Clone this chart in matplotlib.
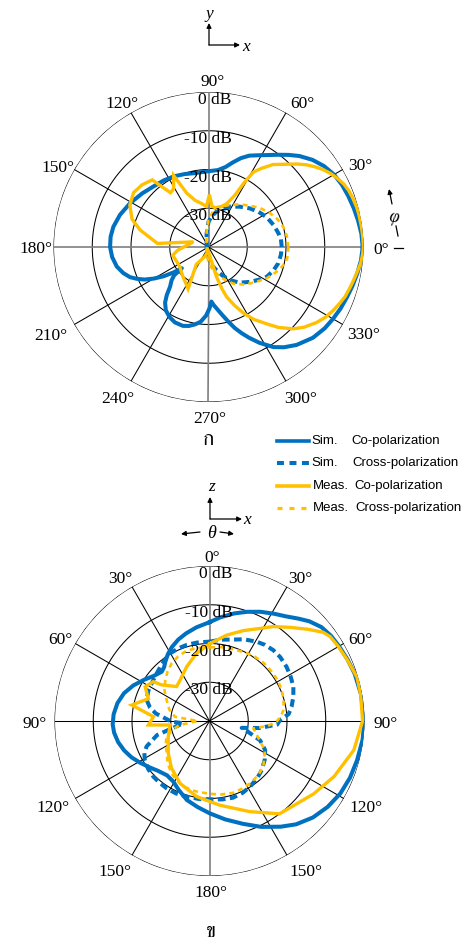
import numpy as np
import matplotlib
matplotlib.use("Agg")
import matplotlib.pyplot as plt
from matplotlib.lines import Line2D
from matplotlib.patches import FancyArrowPatch
from matplotlib import font_manager as fm
from matplotlib.ft2font import FT2Font

plt.rcParams['font.family'] = ['Liberation Serif', 'DejaVu Sans']
plt.rcParams['lines.scale_dashes'] = False

# ---------------- data: (a) xy-plane, angle phi (deg, ccw from +x) ----------------
xy_sim_co_phi = [0, 5, 10, 15, 20, 25, 30, 35, 40, 45, 49, 53, 57, 62, 66, 70, 74, 78, 83, 89, 95,
                 101, 108, 116, 124, 132, 141, 151, 160, 168, 174, 180, 186, 192, 197, 201, 204, 207,
                 210, 213, 216, 218.5, 219.5, 222, 226, 229, 232, 236, 241, 246, 252, 256, 260, 264,
                 268, 271, 273, 275, 278, 282, 285, 288, 291, 294, 298, 303, 307, 312, 319, 325, 330,
                 335, 340, 345, 350, 355, 360]
xy_sim_co_db = [-0.2, -0.4, -0.8, -1.2, -1.6, -2.0, -2.6, -3.6, -5.0, -6.8, -8.5, -10.2, -11.7, -13.2,
                -14.2, -15.6, -17.3, -18.9, -20.0, -20.4, -20.6, -20.6, -20.2, -19.7, -19.3, -18.9,
                -18.0, -16.8, -15.7, -14.9, -14.6, -14.6, -15.0, -15.8, -17.0, -18.3, -19.8, -21.5,
                -23.7, -26.1, -28.8, -31.2, -28.5, -27.2, -25.7, -23.6, -21.8, -20.3, -19.3, -18.7,
                -18.6, -19.0, -19.7, -20.6, -22.3, -24.2, -25.9, -25.0, -23.8, -21.8, -20.0, -18.0,
                -16.2, -14.4, -12.0, -9.2, -7.6, -6.0, -4.3, -3.4, -2.9, -2.4, -2.0, -1.5, -1.0,
                -0.5, -0.2]

xy_sim_cross_phi = [0, 6, 11, 18, 27, 35, 43, 52, 62, 70, 77, 84, 90, 98, 110, 130, 160, 200, 230,
                    255, 275, 283, 289, 296, 303, 311, 320, 327, 333, 340, 347, 354, 360]
xy_sim_cross_db = [-21.1, -21.2, -21.6, -22.2, -23.1, -24.2, -25.4, -26.8, -28.2, -29.7, -30.6, -32.0,
                   -33.5, -36.5, -38.5, -39.3, -39.5, -39.5, -39.3, -38.5, -36.0, -34.8, -33.7, -31.8,
                   -29.8, -27.8, -26.0, -24.5, -23.1, -22.2, -21.5, -21.2, -21.1]

xy_meas_co_phi = [0, 4, 8, 12, 15, 19, 22, 25, 28, 31, 34, 37, 40, 43, 47, 52, 56, 59, 61, 63, 67, 72,
                  80, 85, 89, 93, 100, 106, 112, 116, 121, 125, 130, 137, 144, 152, 160, 166, 176, 161,
                  186, 193, 205, 215, 228, 244, 235, 250, 265, 279, 285, 288, 290, 294, 298, 302, 307,
                  311, 316, 320, 325, 329, 333, 337, 340, 344, 347, 351, 354, 357, 360]
xy_meas_co_db = [0.0, -0.1, -0.2, -0.3, -0.4, -0.7, -1.0, -1.5, -2.3, -3.2, -4.3, -5.6, -7.0, -8.6,
                 -10.8, -13.0, -15.5, -17.4, -21.0, -25.0, -27.8, -29.0, -29.7, -29.5, -26.5, -29.5,
                 -28.5, -27.5, -25.0, -19.5, -22.5, -22.9, -17.4, -16.5, -16.1, -17.0, -19.0, -21.8,
                 -26.8, -35.9, -32.0, -30.5, -31.0, -31.0, -30.0, -28.0, -34.5, -37.5, -39.0, -37.5,
                 -32.0, -28.5, -26.3, -23.5, -20.6, -18.0, -15.2, -12.5, -9.6, -7.8, -6.0, -4.8, -3.9,
                 -3.1, -2.5, -2.0, -1.6, -1.0, -0.5, -0.2, 0.0]

xy_meas_cross_phi = [0, 8, 15, 22, 29, 37, 45, 54, 63, 72, 82, 90, 96, 110, 140, 180, 220, 250, 270,
                     281, 291, 298, 304, 314, 324, 332, 340, 346, 351, 356, 360]
xy_meas_cross_db = [-19.4, -19.6, -20.0, -20.8, -21.9, -23.3, -24.9, -26.4, -27.8, -29.0, -30.4, -33.0,
                    -35.6, -38.5, -39.4, -39.5, -39.4, -38.5, -36.0, -34.0, -31.8, -30.2, -28.6, -26.5,
                    -24.7, -22.9, -21.3, -20.2, -19.5, -19.4, -19.4]

# ---------------- data: (b) xz-plane, angle theta (deg, clockwise from +z) ----------------
xz_sim_co_theta = [0, 6, 13, 19, 25, 31, 36, 41, 45, 50, 55, 60, 66, 72, 80, 90, 97, 105, 112, 119,
                   126, 133, 140, 146, 154, 162, 171, 180, 188, 196, 204, 211, 218, 226, 232, 239, 245,
                   251, 257, 263, 268, 274, 281, 288, 295, 302, 309, 316, 320, 323, 328, 333, 339, 345,
                   352, 360]
xz_sim_co_db = [-14.5, -13.1, -11.5, -10.2, -8.9, -7.7, -6.6, -5.0, -3.6, -2.3, -1.7, -1.4, -1.0, -0.6,
                -0.3, 0.0, -0.2, -0.6, -0.9, -1.4, -2.3, -3.5, -5.2, -7.1, -9.6, -12.1, -14.3, -16.2,
                -17.6, -18.8, -20.5, -21.8, -22.2, -21.5, -20.5, -19.1, -17.8, -16.7, -15.8, -15.2,
                -15.0, -15.2, -15.8, -16.8, -18.3, -20.0, -21.5, -22.3, -21.8, -21.0, -19.7, -18.6,
                -17.5, -16.6, -15.6, -14.5]

xz_sim_cross_theta = [0.4, 8, 16.3, 23, 30.7, 36, 42, 48, 54.9, 61, 67.7, 74, 80.1, 85, 89.2, 93, 98,
                      102, 106, 111, 117.6, 125, 133.2, 140, 148.3, 155, 163, 171, 179.6, 188, 197,
                      205, 212.5, 219, 225.3, 232, 239, 244, 248, 255, 265, 269, 278, 283, 288.5, 296,
                      303, 310, 318, 324, 330, 337, 343.3, 351, 360.4]
xz_sim_cross_db = [-19.5, -18.8, -18.1, -17.1, -16.2, -15.7, -15.4, -15.4, -15.7, -16.1, -16.6, -17.5,
                   -18.5, -19.5, -21.8, -22.5, -27.0, -31.5, -29.5, -26.0, -23.8, -22.6, -21.5, -20.8,
                   -20.1, -19.6, -19.3, -19.5, -19.8, -19.7, -19.6, -19.4, -19.4, -19.5, -19.6, -19.9,
                   -20.5, -21.3, -22.5, -26.0, -33.2, -30.2, -26.0, -24.2, -22.9, -22.4, -22.2, -21.8,
                   -21.1, -20.4, -19.8, -19.6, -19.5, -19.5, -19.5]

xz_meas_co_theta = [0.4, 11.3, 20.5, 28, 34, 41, 47, 52, 55, 60, 66, 73.5, 80, 90, 101.4, 114, 125,
                    143, 156, 173, 189.6, 205.3, 219, 232, 249.2, 264.2, 266.3, 274.4, 281.6, 290, 298,
                    305, 307, 316.3, 324.3, 337.2, 349.3, 360.4]
xz_meas_co_db = [-20.0, -17.4, -15.1, -13.0, -10.6, -8.0, -5.3, -2.8, -2.0, -1.6, -1.1, -0.3, -0.4,
                 -0.5, -2.0, -4.8, -7.2, -10.0, -14.4, -18.1, -20.2, -22.2, -24.4, -26.5, -28.6, -29.8,
                 -24.2, -25.5, -19.5, -23.2, -21.2, -22.3, -24.5, -27.7, -27.0, -24.8, -22.2, -20.0]

xz_meas_cross_theta = [0.4, 9, 18.4, 27, 35.3, 43, 51.6, 59, 67, 74, 81.5, 86, 90.6, 95, 99.5, 112,
                       118, 130.3, 138, 147, 155, 162, 171, 180, 191, 202, 209, 216, 225, 233, 242, 250,
                       256, 262, 270, 277, 286, 296, 304, 313, 320, 326.7, 334, 342, 351, 360.4]
xz_meas_cross_db = [-21.0, -20.7, -20.5, -20.1, -19.7, -19.5, -19.5, -19.5, -19.7, -20.1, -20.7, -21.5,
                    -22.7, -25.0, -28.5, -25.9, -23.8, -21.8, -21.2, -20.8, -20.6, -20.5, -20.8, -21.2,
                    -21.5, -21.8, -22.5, -23.3, -24.7, -26.2, -27.2, -28.2, -30.0, -32.0, -37.0, -31.0,
                    -29.2, -27.7, -26.0, -24.4, -23.2, -22.2, -21.5, -20.9, -20.9, -21.0]

ring_levels = [0, -10, -20, -30]
xy_labels = ['0°', '30°', '60°', '90°', '120°', '150°', '180°', '210°', '240°', '270°', '300°', '330°']
xz_labels = ['0°', '30°', '60°', '90°', '120°', '150°', '180°', '150°', '120°', '90°', '60°', '30°']

legend_series = ['Sim.', 'Sim.', 'Meas.', 'Meas.']
legend_kinds = ['Co-polarization', 'Cross-polarization', 'Co-polarization', 'Cross-polarization']

# ---------------- styles ----------------
BLUE = '#0070C0'
YELLOW = '#FFC000'
W, H = 467, 941

fig = plt.figure(figsize=(W / 100, H / 100), dpi=100)


def fx(x):
    return x / W


def fy(y):
    return 1 - y / H


def make_polar(cx, cy, R, north=False):
    ax = fig.add_axes([fx(cx - R), fy(cy + R), 2 * R / W, 2 * R / H], projection='polar')
    if north:
        ax.set_theta_zero_location('N')
        ax.set_theta_direction(-1)
    ax.set_ylim(-40, 0)
    ax.set_xticks([])
    ax.set_yticks([])
    ax.grid(False)
    ax.spines['polar'].set_visible(False)
    ax.set_facecolor('none')
    th = np.linspace(0, 2 * np.pi, 721)
    for r in ring_levels:
        ax.plot(th, np.full_like(th, r), color='black', lw=0.75, zorder=1)
    return ax


def spokes(ax, gray_set):
    for d in range(0, 180, 30):
        t = np.deg2rad(d)
        if d in gray_set:
            ax.plot([t, t], [-40, 0], color='#7f7f7f', lw=1.2, zorder=1.5)
            ax.plot([t + np.pi, t + np.pi], [-40, 0], color='#7f7f7f', lw=1.2, zorder=1.5)
        else:
            ax.plot([t, t], [-40, 0], color='black', lw=0.75, zorder=1.5)
            ax.plot([t + np.pi, t + np.pi], [-40, 0], color='black', lw=0.75, zorder=1.5)


def draw_series(ax, a1, d1, a2, d2, a3, d3, a4, d4):
    ax.plot(np.deg2rad(a1), d1, color=BLUE, lw=2.9, solid_joinstyle='round', zorder=3)
    ax.plot(np.deg2rad(a2), d2, color=BLUE, lw=2.9, ls=(0, (5.5, 3.2)), zorder=3.2)
    ax.plot(np.deg2rad(a3), d3, color=YELLOW, lw=2.4, solid_joinstyle='miter', zorder=3.4)
    ax.plot(np.deg2rad(a4), d4, color=YELLOW, lw=1.9, ls=(0, (3.6, 3.0)), zorder=3.6)


def db_labels(ax, theta_up):
    for r in ring_levels:
        ax.annotate(f'{r} dB', xy=(theta_up, r), xytext=(23, -12), textcoords='offset pixels',
                    ha='right', va='baseline', fontsize=12.5, zorder=5, annotation_clip=False)


def ftext(x, y, s, **kw):
    fig.text(fx(x), fy(y), s, **kw)


def arrow(x0, y0, x1, y1, head=True, lw=0.9):
    style = '-|>' if head else '-'
    fig.add_artist(FancyArrowPatch((fx(x0), fy(y0)), (fx(x1), fy(y1)), transform=fig.transFigure,
                                   arrowstyle=style, mutation_scale=7, lw=lw, color='black',
                                   shrinkA=0, shrinkB=0))


# ---------------- (a) top plot ----------------
ax1 = make_polar(208.5, 247, 155)
spokes(ax1, {0, 90})
draw_series(ax1, xy_sim_co_phi, xy_sim_co_db, xy_sim_cross_phi, xy_sim_cross_db,
            xy_meas_co_phi, xy_meas_co_db, xy_meas_cross_phi, xy_meas_cross_db)
db_labels(ax1, np.pi / 2)

top_label_pos = [(381, 254), (360, 170), (302, 108), (213, 86), (122, 108), (58, 172), (36, 253),
                 (51, 340), (118, 403), (210, 423), (301, 403), (364, 339)]
for s, (x, y) in zip(xy_labels, top_label_pos):
    ftext(x, y, s, ha='center', va='baseline', fontsize=12.5)

# ---------------- (b) bottom plot ----------------
ax2 = make_polar(209.5, 721, 155, north=True)
spokes(ax2, {0})
draw_series(ax2, xz_sim_co_theta, xz_sim_co_db, xz_sim_cross_theta, xz_sim_cross_db,
            xz_meas_co_theta, xz_meas_co_db, xz_meas_cross_theta, xz_meas_cross_db)
db_labels(ax2, 0.0)

bot_label_pos = [(212, 562), (300, 583), (360, 644), (386, 728), (366, 812), (306, 876), (211, 897),
                 (115, 876), (53, 812), (35, 728), (60, 644), (120, 583)]
for s, (x, y) in zip(xz_labels, bot_label_pos):
    ftext(x, y, s, ha='center', va='baseline', fontsize=12.5)

# ---------------- coordinate indicators ----------------
arrow(209, 45, 209, 23)
arrow(209, 45, 240, 45)
ftext(209, 14, 'y', ha='center', va='center', fontsize=12.5, style='italic')
ftext(246, 47, 'x', ha='center', va='center', fontsize=12.5, style='italic')

arrow(210, 519, 210, 497)
arrow(210, 519, 242, 519)
ftext(212, 487, 'z', ha='center', va='center', fontsize=12.5, style='italic')
ftext(247, 520, 'x', ha='center', va='center', fontsize=12.5, style='italic')
ftext(212, 534, 'θ', ha='center', va='center', fontsize=13, style='italic')
arrow(200, 532, 181, 534)
arrow(220, 532, 234, 534)

# phi indicator near 0 deg
arrow(392, 204, 389, 189)
ftext(394, 217, 'φ', ha='center', va='center', fontsize=13, style='italic', rotation=-10)
fig.add_artist(Line2D([fx(396), fx(398)], [fy(226), fy(236)], transform=fig.transFigure,
                      color='black', lw=0.9))
fig.add_artist(Line2D([fx(394), fx(403)], [fy(247.5), fy(247.5)], transform=fig.transFigure,
                      color='black', lw=0.9))

# ---------------- legend ----------------
leg_rows = [441, 463, 486, 508]
leg_styles = [dict(color=BLUE, lw=2.6, ls='-'),
              dict(color=BLUE, lw=2.9, ls=(0, (5.0, 4.0))),
              dict(color=YELLOW, lw=2.6, ls='-'),
              dict(color=YELLOW, lw=2.3, ls=(0, (3.6, 5.0)))]
name_x = [311, 311, 313, 313]
kind_x = [351, 352, 354, 355]
for y, st, s1, s2, x1, x2 in zip(leg_rows, leg_styles, legend_series, legend_kinds, name_x, kind_x):
    fig.add_artist(Line2D([fx(277), fx(309)], [fy(y), fy(y)], transform=fig.transFigure, **st))
    ftext(x1, y, s1, ha='left', va='center', fontsize=9.5, family=['Liberation Sans', 'DejaVu Sans'])
    ftext(x2, y, s2, ha='left', va='center', fontsize=9.5, family=['Liberation Sans', 'DejaVu Sans'])

# ---------------- Thai sub-figure labels ----------------
thai_path = None
cands = []
for p in fm.findSystemFonts():
    try:
        f = FT2Font(p)
        if f.get_char_index(0x0E01) and f.get_char_index(0x0E02):
            cands.append(p)
    except Exception:
        pass
if cands:
    serif_first = sorted(cands, key=lambda p: (0 if ('Serif' in p or 'Norasi' in p) else 1, p))
    thai_path = serif_first[0]
if thai_path:
    tp = fm.FontProperties(fname=thai_path, size=15)
    fig.text(fx(208), fy(440), 'ก', ha='center', va='center', fontproperties=tp)
    fig.text(fx(211), fy(932), 'ข', ha='center', va='center', fontproperties=tp)
else:
    ftext(208, 440, 'ก', ha='center', va='center', fontsize=15)
    ftext(211, 932, 'ข', ha='center', va='center', fontsize=15)

fig.savefig('out.png', dpi=100)
